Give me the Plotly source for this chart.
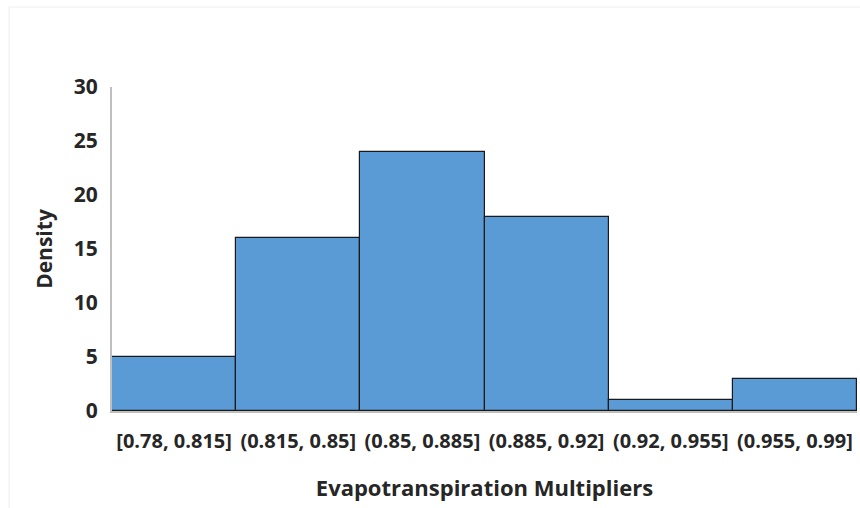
import plotly.graph_objects as go

categories = ["[0.78, 0.815]", "(0.815, 0.85]", "(0.85, 0.885]", "(0.885, 0.92]", "(0.92, 0.955]", "(0.955, 0.99]"]
density = [5, 16, 24, 18, 1, 3]
y_ticks = [0, 5, 10, 15, 20, 25, 30]

W, H = 860, 508
L, R, T, B = 112, 3, 87, 97
pw, ph = W - L - R, H - T - B

fig = go.Figure(go.Bar(
    x=categories, y=density,
    marker=dict(color="#5B9BD5", line=dict(color="#1a1a1a", width=1.2)),
))

font_family = "Open Sans, Noto Sans, sans-serif"
fig.update_layout(
    width=W, height=H,
    margin=dict(l=L, r=R, t=T, b=B),
    paper_bgcolor="white", plot_bgcolor="white",
    bargap=0,
    showlegend=False,
    font=dict(family=font_family, color="#262626"),
    xaxis=dict(
        showgrid=False, showline=True, linecolor="#BFBFBF", linewidth=1.5,
        tickfont=dict(size=20, family=font_family, weight="bold", color="#262626"),
        title=dict(text="<b>Evapotranspiration Multipliers</b>", font=dict(size=22, color="#262626"), standoff=28),
        ticks="", range=[-0.5, 5.5], ticklabelstandoff=11,
    ),
    yaxis=dict(
        range=[0, 30], tickvals=y_ticks, showgrid=False, zeroline=False,
        showline=True, linecolor="#BFBFBF", linewidth=2,
        tickfont=dict(size=21, family=font_family, weight="bold", color="#262626"),
        title=dict(text="<b>Density</b>", font=dict(size=21, color="#262626"), standoff=15),
        ticks="", ticklabelstandoff=8,
    ),
    shapes=[dict(type="rect", xref="paper", yref="paper",
                 x0=(9 - L) / pw, x1=(W + 20 - L) / pw,
                 y0=-(B + 20) / ph, y1=1 + (T - 7) / ph,
                 line=dict(color="#EEEEEE", width=1))],
)

fig.write_html("out.html", config={"displayModeBar": False},
               post_script="document.body.style.margin='0';document.body.style.overflow='hidden';")
